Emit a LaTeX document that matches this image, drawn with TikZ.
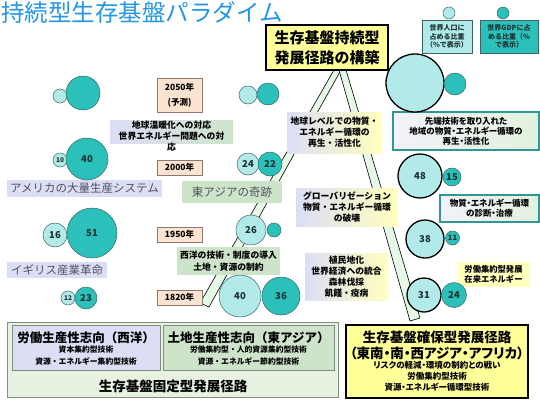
\documentclass[tikz,border=0pt]{standalone}
\usepackage{fontspec}
\newfontfamily\jp{Noto Sans CJK JP}
\newfontfamily\jpp[RawFeature=+palt]{Noto Sans CJK JP}
\definecolor{titleblue}{RGB}{35,150,230}
\definecolor{lcy}{RGB}{178,234,234}
\definecolor{tealc}{RGB}{44,192,186}
\definecolor{cbord}{RGB}{60,100,100}
\definecolor{peach}{RGB}{252,228,208}
\definecolor{ybord}{RGB}{140,120,110}
\definecolor{lav}{RGB}{220,222,246}
\definecolor{grn}{RGB}{206,228,202}
\definecolor{yel}{RGB}{255,255,153}
\definecolor{lyel}{RGB}{255,255,190}
\definecolor{tbord}{RGB}{50,150,150}
\definecolor{stripc}{RGB}{230,248,230}
\definecolor{outerc}{RGB}{232,242,226}
\definecolor{gbord}{RGB}{130,140,130}
\definecolor{txtg}{RGB}{80,80,95}
\definecolor{numc}{RGB}{25,50,50}
\newcommand\numfont{\jp\bfseries\fontsize{9.5}{10}\selectfont}
\begin{document}
\begin{tikzpicture}[x=1pt,y=-1pt,
  lc/.style={circle, draw=cbord, line width=0.5pt, fill=lcy, inner sep=0pt, text=numc, font=\numfont},
  tc/.style={circle, draw=cbord, line width=0.5pt, fill=tealc, inner sep=0pt, text=numc, font=\numfont},
  bc/.style={circle, draw=black, line width=1.3pt, fill=lcy, inner sep=0pt, text=numc, font=\numfont},
  yearbox/.style={draw=ybord, fill=peach, line width=0.8pt, minimum width=45pt, inner sep=0pt, align=center, font=\jp\bfseries\fontsize{8.5}{15}\selectfont},
  era/.style={fill=lav, inner sep=0pt, text=txtg, font=\jp\fontsize{11.5}{13}\selectfont},
  erag/.style={fill=grn, inner sep=0pt, text=txtg, font=\jp\fontsize{11.5}{13}\selectfont},
  gbox/.style={inner sep=0pt, align=center, left color=lav, right color=lyel, font=\jp\bfseries\fontsize{8.8}{11}\selectfont},
  tbox/.style={draw=tbord, line width=1.2pt, inner sep=0pt, align=center, left color={rgb,255:red,242;green,242;blue,250}, right color={rgb,255:red,226;green,242;blue,222}, font=\jpp\bfseries\fontsize{8.5}{10}\selectfont},
  strip/.style={fill=stripc, draw=black, line width=0.6pt},
  small/.style={font=\jp\bfseries\fontsize{7.8}{12}\selectfont}
]
\useasboundingbox (0,0) rectangle (540,405);
\fill[white] (0,0) rectangle (540,405);

% title
\node[anchor=west, inner sep=0pt, text=titleblue, font=\jp\fontsize{23.5}{26}\selectfont] (title) at (1,13) {持続型生存基盤パラダイム};

% strips from the top box
\coordinate (lsa) at (334,70);
\coordinate (lsb) at (341,70);
\coordinate (lsc) at (209,307);
\coordinate (lsd) at (200,303);
\coordinate (rsa) at (339,70);
\coordinate (rsb) at (346,70);
\coordinate (rsc) at (420,318);
\coordinate (rsd) at (410,321);
\filldraw[strip] (lsa) -- (lsb) -- (lsc) -- (lsd) -- cycle;
\filldraw[strip] (rsa) -- (rsb) -- (rsc) -- (rsd) -- cycle;

% top box
\node[draw=black, line width=1.5pt, fill=yel, minimum width=122pt, minimum height=45pt, inner sep=0pt, align=center,
  font=\jp\bfseries\fontsize{15}{20}\selectfont] (top) at (327,47.5) {生存基盤持続型\\発展径路の構築};

% legend
\node[draw=cbord, line width=0.6pt, fill=lcy, minimum width=50pt, minimum height=33pt, inner sep=0pt, align=center,
  text=numc, font=\jp\bfseries\fontsize{7}{8.5}\selectfont] (legp) at (447,36.5) {世界人口に\\占める比重\\（\%で表示）};
\node[draw=cbord, line width=0.6pt, fill=tealc, minimum width=58pt, minimum height=33pt, inner sep=0pt, align=center,
  text=numc, font=\jp\bfseries\fontsize{7}{8.5}\selectfont] (legg) at (509,36.5) {世界GDPに占\\める比重（\%\\で表示）};
\node[lc, minimum size=12pt] (legpc) at (449,13) {};
\node[tc, minimum size=12pt] (leggc) at (503,13) {};

% year boxes
\node[yearbox, minimum height=34pt] (y2050) at (179.5,95) {2050年\\(予測)};
\node[yearbox, minimum height=15pt] (y2000) at (179.5,167.5) {2000年};
\node[yearbox, minimum height=15pt] (y1950) at (179.5,234.5) {1950年};
\node[yearbox, minimum height=15pt] (y1820) at (179.5,297.5) {1820年};

% left-middle labels
\node[inner sep=0pt, left color=lav, right color=grn, minimum width=123pt, minimum height=23pt] (warm) at (171.5,131.5) {};
\node[inner sep=0pt, align=center, font=\jp\bfseries\fontsize{8.8}{11}\selectfont] (warmt) at (171.5,136) {地球温暖化への対応\\世界エネルギー問題への対\\応};
\node[era, minimum width=155pt, minimum height=17pt] (usa) at (84.5,188.5) {アメリカの大量生産システム};
\node[erag, minimum width=100pt, minimum height=22pt] (eam) at (232,192) {東アジアの奇跡};
\node[era, minimum width=100pt, minimum height=16pt] (uk) at (57,270) {イギリス産業革命};
\node[fill=grn, inner sep=0pt, minimum width=103pt, minimum height=28pt, align=center,
  font=\jp\bfseries\fontsize{8.8}{11.5}\selectfont] (west) at (228.5,261) {西洋の技術・制度の導入\\土地・資源の制約};

% center gradient boxes
\node[gbox, minimum width=95pt, minimum height=41pt] (glob) at (334.5,132.5) {地球レベルでの物質・\\エネルギー循環の\\再生・活性化};
\node[gbox, minimum width=102pt, minimum height=38pt] (globz) at (347,207) {グローバリゼーション\\物質・エネルギー循環\\の破壊};
\node[gbox, minimum width=83pt, minimum height=47pt] (colo) at (346.5,276.5) {植民地化\\世界経済への統合\\森林伐採\\飢饉・疫病};

% right boxes
\node[tbox, minimum width=146pt, minimum height=38pt] (adv) at (466,131) {先端技術を取り入れた\\地域の物質・エネルギー循環の\\再生・活性化};
\node[tbox, minimum width=99pt, minimum height=27pt] (diag) at (489.5,208.5) {物質・エネルギー循環\\の診断・治療};
\node[fill=lyel, inner sep=0pt, minimum width=73pt, minimum height=25pt, align=center,
  font=\jp\bfseries\fontsize{8.3}{10}\selectfont] (labi) at (493.5,274.5) {労働集約型発展\\在来エネルギー};

% circles: West
\node[lc, minimum size=14pt] (w50a) at (60,96) {};
\node[tc, minimum size=34pt] (w50b) at (83,93) {};
\node[lc, minimum size=14pt, font=\jp\bfseries\fontsize{6.5}{7}\selectfont] (w00a) at (60,160) {10};
\node[tc, minimum size=42pt] (w00b) at (87,159) {40};
\node[lc, minimum size=24pt] (w95a) at (55,235) {16};
\node[tc, minimum size=50pt] (w95b) at (92,233) {51};
\node[lc, minimum size=14pt, font=\jp\bfseries\fontsize{6.5}{7}\selectfont] (w82a) at (68,298) {12};
\node[tc, minimum size=22pt] (w82b) at (86,298) {23};

% circles: East Asia
\node[lc, minimum size=18pt] (e50a) at (248,95) {};
\node[tc, minimum size=22pt] (e50b) at (268,94) {};
\node[lc, minimum size=22pt] (e00a) at (248,164) {24};
\node[tc, minimum size=24pt] (e00b) at (270,164) {22};
\node[lc, minimum size=30pt] (e95a) at (251,230) {26};
\node[tc, minimum size=14pt] (e95b) at (274,230) {};
\node[lc, minimum size=42pt] (e82a) at (240,296) {40};
\node[tc, minimum size=38pt] (e82b) at (281,296) {36};

% circles: South
\node[bc, minimum size=58pt] (s50a) at (415,83) {};
\node[tc, minimum size=22pt] (s50b) at (455,84) {};
\node[bc, minimum size=44pt] (s00a) at (420,176) {48};
\node[tc, minimum size=18pt] (s00b) at (452,177) {15};
\node[bc, minimum size=38pt] (s95a) at (425,239) {38};
\node[tc, minimum size=14pt, font=\jp\bfseries\fontsize{7.5}{8}\selectfont] (s95b) at (452.5,238) {11};
\node[bc, minimum size=34pt] (s82a) at (424,295) {31};
\node[tc, minimum size=25pt] (s82b) at (454,295) {24};

% bottom-left box
\node[draw=gbord, line width=0.8pt, fill=outerc, minimum width=331pt, minimum height=75pt, inner sep=0pt] (fixed) at (172.5,359.5) {};
\node[draw=gbord, line width=0.8pt, fill=lav, minimum width=148pt, minimum height=45pt, inner sep=0pt] (labw) at (86,347.5) {};
\node[draw=gbord, line width=0.8pt, fill=grn, minimum width=171pt, minimum height=45pt, inner sep=0pt] (lande) at (248.5,347.5) {};
\node[inner sep=0pt, font=\jp\bfseries\fontsize{12.5}{14}\selectfont] (labwt) at (86,338) {労働生産性志向（西洋）};
\node[inner sep=0pt, align=center, small] (labws) at (86,356) {資本集約型技術\\資源・エネルギー集約型技術};
\node[inner sep=0pt, font=\jp\bfseries\fontsize{12.5}{14}\selectfont] (landet) at (248.5,338) {土地生産性志向（東アジア）};
\node[inner sep=0pt, align=center, small] (landes) at (248.5,356) {労働集約型・人的資源集約型技術\\資源・エネルギー節約型技術};
\node[inner sep=0pt, font=\jp\bfseries\fontsize{13.5}{15}\selectfont] (fixedt) at (173,386) {生存基盤固定型発展径路};

% bottom-right box
\node[draw=black, line width=1.5pt, fill=yel, minimum width=182pt, minimum height=73pt, inner sep=0pt] (secure) at (437,361.5) {};
\node[inner sep=0pt, align=center, font=\jpp\bfseries\fontsize{13.5}{16}\selectfont] (securet) at (437,345) {生存基盤確保型発展径路\\（東南・南・西アジア・アフリカ）};
\node[inner sep=0pt, align=center, font=\jpp\bfseries\fontsize{8.5}{11}\selectfont] (secures) at (437,376) {リスクの軽減・環境の制約との戦い\\労働集約型技術\\資源・エネルギー循環型技術};
\end{tikzpicture}
\end{document}
